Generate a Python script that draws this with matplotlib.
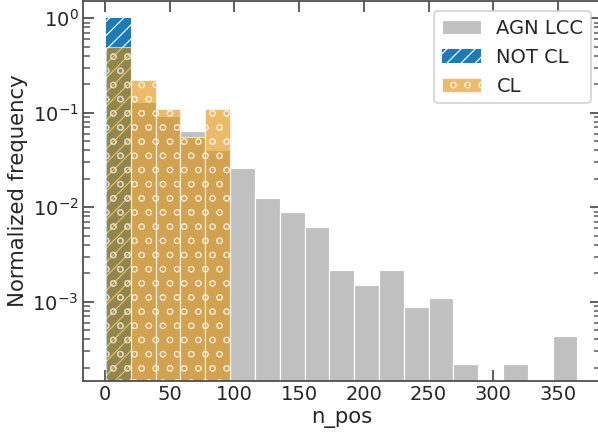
import numpy as np
import matplotlib
matplotlib.use("Agg")
import matplotlib.pyplot as plt
import seaborn as sns

# bins in n_pos
bin_lo = 1
bin_hi = 365
n_bins = 19

# normalized frequency per bin
agn_lcc = [0.61, 0.129, 0.093, 0.0642, 0.0401, 0.0259, 0.01245, 0.00885,
           0.00614, 0.00215, 0.00152, 0.00215, 0.000875, 0.0011, 0.000218,
           0.0, 0.000218, 0.0, 0.000438]
not_cl = [1.0] + [0.0] * 18
cl = [0.5, 0.222, 0.111, 0.0556, 0.111] + [0.0] * 14

labels = ["AGN LCC", "NOT CL", "CL"]


def main():
    sns.set_theme(style="ticks", context="talk", palette="colorblind")
    plt.rcParams["font.family"] = ["DejaVu Sans"]
    plt.rcParams["hatch.color"] = "white"
    plt.rcParams["xtick.direction"] = "in"
    plt.rcParams["ytick.direction"] = "in"
    plt.rcParams["xtick.top"] = True
    plt.rcParams["ytick.right"] = True
    plt.rcParams["axes.edgecolor"] = "0.3"
    plt.rcParams["axes.linewidth"] = 1.5
    plt.rcParams["xtick.color"] = "0.35"
    plt.rcParams["ytick.color"] = "0.35"
    plt.rcParams["xtick.labelcolor"] = "0.15"
    plt.rcParams["ytick.labelcolor"] = "0.15"
    plt.rcParams["xtick.major.width"] = 1.6
    plt.rcParams["ytick.major.width"] = 1.6
    plt.rcParams["ytick.minor.width"] = 1.3

    pal = sns.color_palette("colorblind")
    edges = np.linspace(bin_lo, bin_hi, n_bins + 1)
    widths = np.diff(edges)

    dpi = 85
    fig = plt.figure(figsize=(598 / dpi, 437 / dpi), dpi=dpi)
    ax = fig.add_axes([82.5 / 598, 56.5 / 437, 518.5 / 598, 379 / 437])

    ax.bar(edges[:-1], agn_lcc, width=widths, align="edge", color="silver",
           edgecolor="white", linewidth=1, label=labels[0])
    ax.bar(edges[:-1], not_cl, width=widths, align="edge", color="#1f7bb6",
           edgecolor="white", linewidth=0, hatch="//", label=labels[1])
    ax.bar(edges[:-1], cl, width=widths, align="edge", color=pal[1],
           alpha=0.6, edgecolor="white", linewidth=1, hatch="o",
           label=labels[2])

    ax.set_yscale("log")
    ax.set_xlim(-17.2, 383.2)
    ax.set_ylim(1.47e-4, 1.506)
    ax.set_xticks([0, 50, 100, 150, 200, 250, 300, 350])
    ax.tick_params(axis="x", which="minor", bottom=False, top=False)
    ax.set_xlabel("n_pos", labelpad=4)
    ax.set_ylabel("Normalized frequency")
    ax.legend(loc="upper right")

    fig.savefig("out.png", dpi=dpi)


if __name__ == "__main__":
    main()
